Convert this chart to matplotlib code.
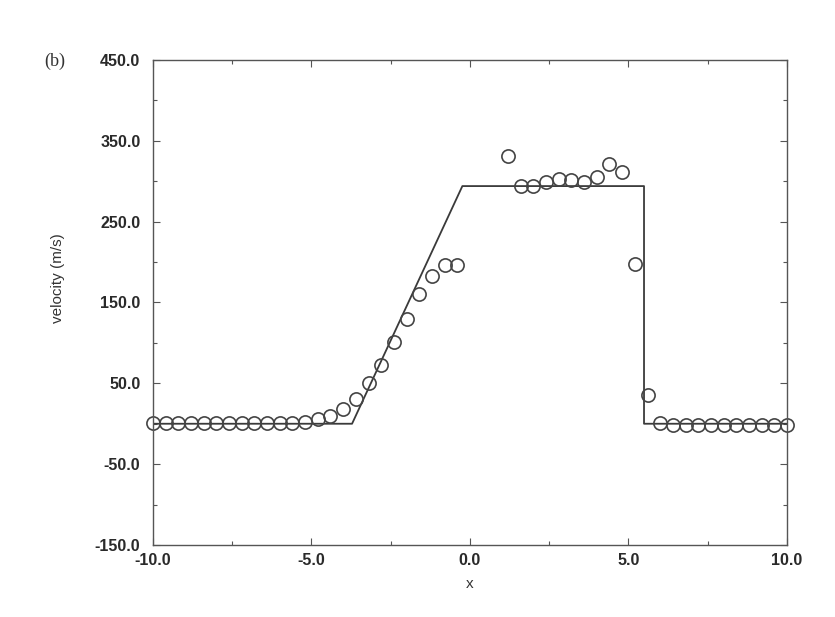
import numpy as np
import matplotlib
matplotlib.use("Agg")
import matplotlib.pyplot as plt
from matplotlib.ticker import MultipleLocator

# solucion exacta (poligonal)
x_exacta = [-10.0, -3.72, -0.24, 5.49, 5.49, 10.0]
v_exacta = [0.0, 0.0, 294.0, 294.0, 0.0, 0.0]

# puntos numericos (circulos)
x_num = [-10.0, -9.6, -9.2, -8.8, -8.4, -8.0, -7.6, -7.2, -6.8, -6.4,
         -6.0, -5.6, -5.2, -4.8, -4.4, -4.0, -3.6, -3.2, -2.8, -2.4,
         -2.0, -1.6, -1.2, -0.8, -0.4,
         1.2, 1.6, 2.0, 2.4, 2.8, 3.2, 3.6, 4.0, 4.4, 4.8,
         5.2, 5.6, 6.0, 6.4, 6.8, 7.2, 7.6, 8.0, 8.4, 8.8, 9.2, 9.6, 10.0]
v_num = [1.5, 1.5, 1.5, 1.5, 1.5, 1.5, 1.5, 1.5, 1.5, 1.5,
         1.5, 1.5, 2.0, 5.5, 9.0, 18.0, 30.0, 50.0, 73.0, 101.0,
         130.0, 160.0, 183.0, 196.5, 196.5,
         331.0, 293.5, 293.5, 298.5, 302.5, 301.5, 298.5, 305.0, 321.0, 311.0,
         197.5, 35.0, 1.0, -1.0, -1.0, -1.0, -1.0, -1.0, -1.0, -1.0, -1.0, -1.0, -1.0]

xticks = [-10.0, -5.0, 0.0, 5.0, 10.0]
yticks = [-150.0, -50.0, 50.0, 150.0, 250.0, 350.0, 450.0]

plt.rcParams['font.family'] = ['Liberation Sans', 'DejaVu Sans']
gris = '#3a3a3a'

fig = plt.figure(figsize=(8.35, 6.17), dpi=100)
ax = fig.add_axes([0.1832, 0.1167, 0.7593, 0.7861])

ax.plot(x_exacta, v_exacta, color=gris, lw=1.3)
ax.plot(x_num, v_num, linestyle='none', marker='o', markersize=9.5,
        markerfacecolor='none', markeredgecolor='#444444', markeredgewidth=1.2,
        clip_on=False)

ax.set_xlim(-10, 10)
ax.set_ylim(-150, 450)
ax.set_xticks(xticks)
ax.set_xticklabels([f"{t:.1f}" for t in xticks])
ax.set_yticks(yticks)
ax.set_yticklabels([f"{t:.1f}" for t in yticks])
ax.xaxis.set_minor_locator(MultipleLocator(2.5))
ax.yaxis.set_minor_locator(MultipleLocator(50))

ax.tick_params(which='both', direction='in', top=True, right=True,
               colors='#555555', labelcolor='#2a2a2a', labelsize=11.5)
ax.tick_params(which='major', length=5, width=0.8)
ax.tick_params(which='minor', length=3, width=0.8)
ax.tick_params(axis='y', pad=9)
ax.tick_params(axis='x', pad=6)
for lbl in ax.get_xticklabels() + ax.get_yticklabels():
    lbl.set_fontweight('bold')
for s in ax.spines.values():
    s.set_color('#555555')
    s.set_linewidth(1.0)

ax.set_xlabel('x', fontsize=11, color='#333333')
ax.set_ylabel('velocity (m/s)', fontsize=11, color='#333333')
ax.xaxis.set_label_coords(0.5, -0.067)
ax.yaxis.set_label_coords(-0.139, 0.55)
fig.text(0.066, 0.9, '(b)', family='Liberation Serif', fontsize=13,
         color='#333333', ha='center', va='center')

fig.savefig('out.png', dpi=100)
